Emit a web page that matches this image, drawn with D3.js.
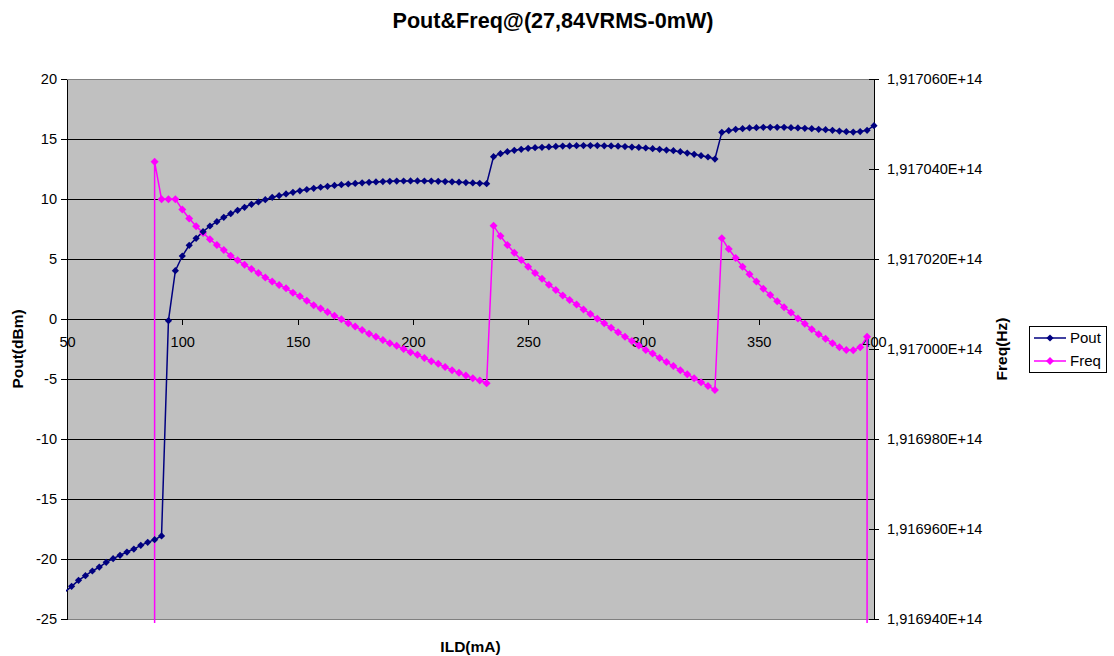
<!DOCTYPE html>
<html lang="en">
<head>
<meta charset="utf-8" />
<title>Pout&amp;Freq</title>
<script src="https://cdn.jsdelivr.net/npm/d3@7/dist/d3.min.js"></script>
<style>
  body { margin: 0; background: #fff; }
  svg text { font-family: "Liberation Sans", Arial, sans-serif; fill: #000; }
</style>
</head>
<body>
<script>

// ILD in mA (x values)
var ild = [49, 52, 55, 58, 61, 64, 67, 70, 73, 76, 79, 82, 85, 88, 91, 94, 97, 100,
  103, 106, 109, 112, 115, 118, 121, 124, 127, 130, 133, 136, 139, 142, 145, 148,
  151, 154, 157, 160, 163, 166, 169, 172, 175, 178, 181, 184, 187, 190, 193, 196,
  199, 202, 205, 208, 211, 214, 217, 220, 223, 226, 229, 232, 235, 238, 241, 244,
  247, 250, 253, 256, 259, 262, 265, 268, 271, 274, 277, 280, 283, 286, 289, 292,
  295, 298, 301, 304, 307, 310, 313, 316, 319, 322, 325, 328, 331, 334, 337, 340,
  343, 346, 349, 352, 355, 358, 361, 364, 367, 370, 373, 376, 379, 382, 385, 388,
  391, 394, 397, 400];

// Pout in dBm
var pout = [-22.75, -22.28, -21.78, -21.39, -21.00, -20.67, -20.28, -19.97, -19.69,
  -19.42, -19.17, -18.86, -18.61, -18.39, -18.08, -0.14, 4.03, 5.25, 6.14, 6.72,
  7.28, 7.75, 8.11, 8.47, 8.78, 9.06, 9.31, 9.56, 9.75, 9.94, 10.14, 10.28, 10.42,
  10.56, 10.68, 10.79, 10.89, 10.98, 11.06, 11.13, 11.19, 11.25, 11.30, 11.35,
  11.39, 11.42, 11.45, 11.47, 11.49, 11.50, 11.51, 11.51, 11.50, 11.49, 11.47,
  11.45, 11.43, 11.40, 11.37, 11.34, 11.31, 11.28, 13.53, 13.78, 13.94, 14.06,
  14.14, 14.22, 14.28, 14.31, 14.34, 14.38, 14.41, 14.42, 14.44, 14.45, 14.45,
  14.45, 14.43, 14.42, 14.40, 14.37, 14.33, 14.30, 14.25, 14.19, 14.14, 14.08,
  14.03, 13.94, 13.83, 13.72, 13.61, 13.50, 13.33, 15.56, 15.69, 15.81, 15.86,
  15.92, 15.94, 15.97, 15.97, 15.97, 15.97, 15.94, 15.92, 15.89, 15.86, 15.81,
  15.78, 15.72, 15.66, 15.61, 15.58, 15.62, 15.72, 16.11];

// Freq in GHz (0 = no lasing)
var freq = [0, 0, 0, 0, 0, 0, 0, 0, 0, 0, 0, 0, 0,
  191704.16, 191703.33, 191703.33, 191703.33, 191703.10, 191702.90, 191702.73,
  191702.58, 191702.44, 191702.31, 191702.20, 191702.07, 191701.97, 191701.87,
  191701.78, 191701.69, 191701.59, 191701.50, 191701.42, 191701.35, 191701.25,
  191701.17, 191701.07, 191700.97, 191700.90, 191700.82, 191700.74, 191700.66,
  191700.57, 191700.50, 191700.42, 191700.34, 191700.27, 191700.20, 191700.13,
  191700.07, 191700.00, 191699.93, 191699.87, 191699.80, 191699.73, 191699.67,
  191699.60, 191699.53, 191699.47, 191699.41, 191699.35, 191699.30, 191699.24,
  191702.74, 191702.51, 191702.31, 191702.14, 191701.98, 191701.83, 191701.69,
  191701.56, 191701.43, 191701.31, 191701.19, 191701.09, 191700.99, 191700.88,
  191700.78, 191700.67, 191700.57, 191700.47, 191700.37, 191700.27, 191700.18,
  191700.08, 191699.98, 191699.90, 191699.80, 191699.71, 191699.62, 191699.53,
  191699.44, 191699.35, 191699.26, 191699.18, 191699.09, 191702.46, 191702.22,
  191702.02, 191701.83, 191701.66, 191701.50, 191701.34, 191701.20, 191701.06,
  191700.93, 191700.81, 191700.68, 191700.56, 191700.44, 191700.33, 191700.23,
  191700.13, 191700.04, 191699.98, 191699.97, 191700.04, 191700.27, 0];

var xTicks = [50, 100, 150, 200, 250, 300, 350, 400];
var poutTicks = [-25, -20, -15, -10, -5, 0, 5, 10, 15, 20];
var freqTicks = [191694, 191696, 191698, 191700, 191702, 191704, 191706];

var title = "Pout&Freq@(27,84VRMS-0mW)";
var seriesNames = ["Pout", "Freq"];
var colors = ["#000080", "#ff00ff"];

var w = 1114, h = 656;
var plot = {left: 67, right: 874, top: 79, bottom: 619};

var xScale = d3.scaleLinear().domain([50, 400]).range([plot.left, plot.right]);
var yL = d3.scaleLinear().domain([-25, 20]).range([plot.bottom, plot.top]);
var yR = d3.scaleLinear().domain([191694, 191706]).range([plot.bottom, plot.top]);

var svg = d3.select("body").append("svg")
  .attr("width", w).attr("height", h);

svg.append("defs").append("clipPath").attr("id", "clip")
  .append("rect").attr("x", 66).attr("y", 70)
  .attr("width", 812).attr("height", 553);

// plot background
svg.append("rect")
  .attr("x", plot.left).attr("y", plot.top)
  .attr("width", plot.right - plot.left).attr("height", plot.bottom - plot.top)
  .attr("fill", "#c0c0c0")
  .attr("stroke", "#808080").attr("stroke-width", 1)
  .attr("shape-rendering", "crispEdges");

// gridlines
svg.append("g").selectAll("line")
  .data(poutTicks.filter(function(d) { return d > -25 && d < 20; }))
  .enter().append("line")
  .attr("x1", plot.left).attr("x2", plot.right)
  .attr("y1", function(d) { return yL(d); })
  .attr("y2", function(d) { return yL(d); })
  .attr("stroke", "#000").attr("stroke-width", 1)
  .attr("shape-rendering", "crispEdges");

var plain = function(d) { return String(d); };

// left axis
var gL = svg.append("g")
  .attr("transform", "translate(" + plot.left + ",0)")
  .call(d3.axisLeft(yL).tickValues(poutTicks).tickFormat(plain)
    .tickSize(6).tickPadding(4).tickSizeOuter(0));

// x axis at Pout = 0
var gX = svg.append("g")
  .attr("transform", "translate(0," + yL(0) + ")")
  .call(d3.axisBottom(xScale).tickValues(xTicks).tickFormat(plain)
    .tickSize(6).tickPadding(12).tickSizeOuter(0));

// right axis
var gR = svg.append("g")
  .attr("transform", "translate(" + plot.right + ",0)")
  .call(d3.axisRight(yR).tickValues(freqTicks).tickSize(6).tickPadding(7).tickSizeOuter(0)
    .tickFormat(function(d) { return (d / 1e5).toFixed(6).replace(".", ",") + "E+14"; }));
gR.selectAll(".tick line").attr("x1", -5).attr("x2", 5);

[gL, gX, gR].forEach(function(g) {
  g.selectAll("text").attr("font-size", 14.6)
    .attr("font-family", "'Liberation Sans', Arial, sans-serif").attr("fill", "#000");
  g.selectAll("line").attr("stroke", "#000").attr("shape-rendering", "crispEdges");
  g.select(".domain").attr("stroke", "#000").attr("shape-rendering", "crispEdges");
});

var diamond = function(s) {
  return "M0," + (-s) + "L" + s + ",0L0," + s + "L" + (-s) + ",0Z";
};

var poutData = ild.map(function(d, i) { return {x: d, y: pout[i]}; });
var freqData = ild.map(function(d, i) { return {x: d, y: freq[i]}; });

var series = svg.append("g").attr("clip-path", "url(#clip)");

// Freq
series.append("path")
  .datum(freqData)
  .attr("fill", "none").attr("stroke", colors[1]).attr("stroke-width", 1.5)
  .attr("d", d3.line()
    .x(function(d) { return xScale(d.x); })
    .y(function(d) { return yR(d.y); }));

// Pout
series.append("path")
  .datum(poutData)
  .attr("fill", "none").attr("stroke", colors[0]).attr("stroke-width", 1.5)
  .attr("d", d3.line()
    .x(function(d) { return xScale(d.x); })
    .y(function(d) { return yL(d.y); }));

series.append("g").selectAll("path")
  .data(freqData.filter(function(d) { return d.y > 0; }))
  .enter().append("path")
  .attr("transform", function(d) { return "translate(" + xScale(d.x) + "," + yR(d.y) + ")"; })
  .attr("d", diamond(4))
  .attr("fill", colors[1]);

series.append("g").selectAll("path")
  .data(poutData.filter(function(d) { return d.x >= 50; }))
  .enter().append("path")
  .attr("transform", function(d) { return "translate(" + xScale(d.x) + "," + yL(d.y) + ")"; })
  .attr("d", diamond(3.6))
  .attr("fill", colors[0]);

// titles
svg.append("text")
  .attr("x", 553).attr("y", 28)
  .attr("text-anchor", "middle")
  .attr("font-size", 21.6).attr("font-weight", "bold")
  .text(title);

svg.append("text")
  .attr("x", (plot.left + plot.right) / 2).attr("y", 652)
  .attr("text-anchor", "middle")
  .attr("font-size", 15.5).attr("font-weight", "bold")
  .text("ILD(mA)");

svg.append("text")
  .attr("transform", "translate(23," + (plot.top + plot.bottom) / 2 + ") rotate(-90)")
  .attr("text-anchor", "middle")
  .attr("font-size", 15.5).attr("font-weight", "bold")
  .text("Pout(dBm)");

svg.append("text")
  .attr("transform", "translate(1007," + (plot.top + plot.bottom) / 2 + ") rotate(-90)")
  .attr("text-anchor", "middle")
  .attr("font-size", 15.5).attr("font-weight", "bold")
  .text("Freq(Hz)");

// legend
var legend = svg.append("g");
legend.append("rect")
  .attr("x", 1029.5).attr("y", 326.5).attr("width", 77).attr("height", 46)
  .attr("fill", "#fff").attr("stroke", "#000").attr("stroke-width", 1);

seriesNames.forEach(function(name, i) {
  var ly = 338 + i * 23;
  legend.append("line")
    .attr("x1", 1034).attr("x2", 1066).attr("y1", ly).attr("y2", ly)
    .attr("stroke", colors[i]).attr("stroke-width", 1.5);
  legend.append("path")
    .attr("transform", "translate(1050," + ly + ")")
    .attr("d", diamond(i === 0 ? 3.6 : 4))
    .attr("fill", colors[i]);
  legend.append("text")
    .attr("x", 1070).attr("y", ly + 5)
    .attr("font-size", 15)
    .text(name);
});

</script>
</body>
</html>
